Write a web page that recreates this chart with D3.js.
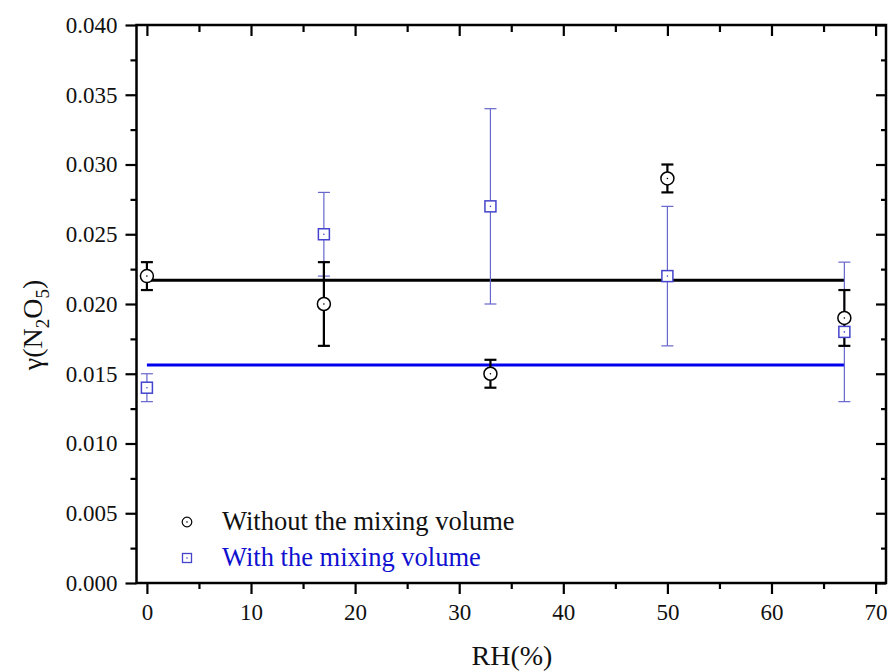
<!DOCTYPE html>
<html>
<head>
<meta charset="utf-8">
<script src="https://cdn.jsdelivr.net/npm/d3@7"></script>
<style>
  html, body { margin: 0; padding: 0; background: #fff; }
  svg text { font-family: "Liberation Serif", "Times New Roman", serif; }
</style>
</head>
<body>
<svg id="chart" width="891" height="671"></svg>
<script>
// Relative humidity of each run (%)
const rhValues = [0, 17, 33, 50, 67];

// Uptake coefficient without the mixing volume: value, lower, upper
const withoutMix = [0.022, 0.020, 0.015, 0.029, 0.019];
const withoutMixLow = [0.021, 0.017, 0.014, 0.028, 0.017];
const withoutMixHigh = [0.023, 0.023, 0.016, 0.030, 0.021];

// Uptake coefficient with the mixing volume: value, lower, upper
const withMix = [0.014, 0.025, 0.027, 0.022, 0.018];
const withMixLow = [0.013, 0.022, 0.020, 0.017, 0.013];
const withMixHigh = [0.015, 0.028, 0.034, 0.027, 0.023];

// Weighted average levels of the two series
const fitLevels = [0.0217, 0.01562];

// Axis tick values
const xTicks = [0, 10, 20, 30, 40, 50, 60, 70];
const xMinorTicks = [5, 15, 25, 35, 45, 55, 65];
const yTicks = [0, 0.005, 0.010, 0.015, 0.020, 0.025, 0.030, 0.035, 0.040];
const yMinorTicks = [0.0025, 0.0075, 0.0125, 0.0175, 0.0225, 0.0275, 0.0325, 0.0375];

const legendLabels = ["Without the mixing volume", "With the mixing volume"];

const svg = d3.select("#chart");
const plotLeft = 136.5, plotRight = 886, plotTop = 25, plotBottom = 583;

const x = d3.scaleLinear().domain([-1, 71]).range([plotLeft, plotRight]);
const y = d3.scaleLinear().domain([0, 0.04]).range([plotBottom, plotTop]);

const axisColor = "#000";
const tickFont = 23;
const legendFont = 26.5;
const titleFont = 28;

// Bottom & left axes: outward ticks with labels
const gBottom = svg.append("g").attr("transform", `translate(0,${plotBottom})`);
gBottom.call(d3.axisBottom(x).tickValues(xTicks).tickSize(11).tickPadding(10).tickFormat(d3.format("d")));
gBottom.append("g").call(d3.axisBottom(x).tickValues(xMinorTicks).tickSize(6).tickFormat(""));

const gLeft = svg.append("g").attr("transform", `translate(${plotLeft},0)`);
gLeft.call(d3.axisLeft(y).tickValues(yTicks).tickSize(11).tickPadding(8).tickFormat(d3.format(".3f")));
gLeft.append("g").call(d3.axisLeft(y).tickValues(yMinorTicks).tickSize(6).tickFormat(""));

// Top & right axes: inward ticks, no labels
const gTop = svg.append("g").attr("transform", `translate(0,${plotTop})`);
gTop.call(d3.axisBottom(x).tickValues(xTicks).tickSize(11).tickFormat(""));
gTop.append("g").call(d3.axisBottom(x).tickValues(xMinorTicks).tickSize(7).tickFormat(""));

const gRight = svg.append("g").attr("transform", `translate(${plotRight},0)`);
gRight.call(d3.axisLeft(y).tickValues(yTicks).tickSize(10).tickFormat(""));
gRight.append("g").call(d3.axisLeft(y).tickValues(yMinorTicks).tickSize(5).tickFormat(""));

svg.selectAll(".domain").remove();
svg.selectAll(".tick line").attr("stroke", axisColor).attr("stroke-width", 2.2);
svg.selectAll(".tick text").attr("font-size", tickFont).attr("fill", "#111");

// Plot frame
svg.append("rect")
  .attr("x", plotLeft).attr("y", plotTop)
  .attr("width", plotRight - plotLeft).attr("height", plotBottom - plotTop)
  .attr("fill", "none").attr("stroke", axisColor).attr("stroke-width", 2.5);

// Average lines
const fitColors = ["#000000", "#0000ee"];
fitLevels.forEach((lv, i) => {
  svg.append("line")
    .attr("x1", x(rhValues[0])).attr("x2", x(rhValues[rhValues.length - 1]))
    .attr("y1", y(lv)).attr("y2", y(lv))
    .attr("stroke", fitColors[i]).attr("stroke-width", 3);
});

// Error bars
function errorBars(lo, hi, color, width, cap) {
  const g = svg.append("g");
  rhValues.forEach((rh, i) => {
    const cx = x(rh);
    g.append("line").attr("x1", cx).attr("x2", cx)
      .attr("y1", y(lo[i])).attr("y2", y(hi[i]))
      .attr("stroke", color).attr("stroke-width", width);
    [lo[i], hi[i]].forEach(v => {
      g.append("line").attr("x1", cx - cap).attr("x2", cx + cap)
        .attr("y1", y(v)).attr("y2", y(v))
        .attr("stroke", color).attr("stroke-width", width);
    });
  });
}

const blueMarker = "#4444cc";
errorBars(withMixLow, withMixHigh, "#6666cc", 1.2, 6);
errorBars(withoutMixLow, withoutMixHigh, "#000", 2.2, 6);

// Marker shapes with a centre dot
function squareMarker(g, cx, cy, size, color, sw) {
  g.append("rect").attr("x", cx - size / 2).attr("y", cy - size / 2)
    .attr("width", size).attr("height", size)
    .attr("fill", "#fff").attr("stroke", color).attr("stroke-width", sw);
  g.append("circle").attr("cx", cx).attr("cy", cy).attr("r", 0.8).attr("fill", color);
}
function circleMarker(g, cx, cy, r, color, sw) {
  g.append("circle").attr("cx", cx).attr("cy", cy).attr("r", r)
    .attr("fill", "#fff").attr("stroke", color).attr("stroke-width", sw);
  g.append("circle").attr("cx", cx).attr("cy", cy).attr("r", 0.8).attr("fill", color);
}

const gSq = svg.append("g");
rhValues.forEach((rh, i) => squareMarker(gSq, x(rh), y(withMix[i]), 11, blueMarker, 1.5));
const gCi = svg.append("g");
rhValues.forEach((rh, i) => circleMarker(gCi, x(rh), y(withoutMix[i]), 6.5, "#000", 1.5));

// Legend
const legend = svg.append("g");
circleMarker(legend, 187, 522, 4.8, "#000", 1.2);
squareMarker(legend, 187, 558, 9, blueMarker, 1.3);
legend.append("text").attr("x", 222).attr("y", 530).attr("font-size", legendFont)
  .attr("fill", "#111").text(legendLabels[0]);
legend.append("text").attr("x", 222).attr("y", 566).attr("font-size", legendFont)
  .attr("fill", "#1010d0").text(legendLabels[1]);

// Axis titles
svg.append("text").attr("x", 512).attr("y", 665).attr("text-anchor", "middle")
  .attr("font-size", titleFont).attr("fill", "#111").text("RH(%)");

const yt = svg.append("text")
  .attr("transform", "translate(42,325) rotate(-90)")
  .attr("text-anchor", "middle").attr("font-size", titleFont).attr("fill", "#111");
yt.append("tspan").text("\u03B3(N");
yt.append("tspan").attr("font-size", 19).attr("dy", 7).text("2");
yt.append("tspan").attr("dy", -7).text("O");
yt.append("tspan").attr("font-size", 19).attr("dy", 7).text("5");
yt.append("tspan").attr("dy", -7).text(")");
</script>
</body>
</html>
